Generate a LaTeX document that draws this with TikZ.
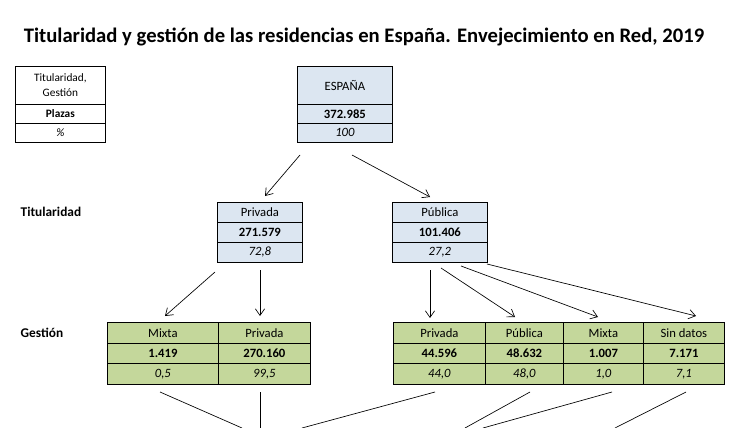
\documentclass[tikz,border=0pt]{standalone}
\usepackage{fontspec}
\setmainfont{Carlito}
\usetikzlibrary{arrows.meta}
\begin{document}
\begin{tikzpicture}[x=0.75pt,y=-0.75pt,font=\fontsize{9.5}{11}\selectfont,
 cell/.style={draw,line width=0.6pt,inner sep=0pt,anchor=north west,align=center},
 bl/.style={cell,fill={rgb,255:red,220;green,230;blue,241}},
 gr/.style={cell,fill={rgb,255:red,196;green,215;blue,155}},
 wh/.style={cell,fill=white},
 sz/.style 2 args={minimum width=0.75*#1 pt,minimum height=0.75*#2 pt},
 arr/.style={-{Straight Barb[length=5pt,width=7pt]},line width=0.5pt},
 ln/.style={line width=0.5pt},
 lab/.style={font=\fontsize{10}{12}\selectfont\bfseries,anchor=west}]
\useasboundingbox (0,0) rectangle (735,428);
\node[font=\fontsize{15.5}{18}\selectfont\bfseries] (title) at (364,37) {Titularidad y gestión de las residencias en España. Envejecimiento en Red, 2019};
% legend
\node[wh,sz={90}{38},font=\fontsize{8.5}{11}\selectfont] (l1) at (15,66) {Titularidad,\\Gestión};
\node[wh,sz={90}{19},font=\fontsize{8.5}{10}\selectfont] (l2) at (15,104) {\bfseries Plazas};
\node[wh,sz={90}{19},font=\fontsize{8.5}{10}\selectfont] (l3) at (15,123) {\itshape \%};
% Espana
\node[bl,sz={95}{38}] (e1) at (297,66) {ESPAÑA};
\node[bl,sz={95}{19}] (e2) at (297,104) {\bfseries 372.985};
\node[bl,sz={95}{19}] (e3) at (297,123) {\itshape 100};
\node[lab] (tit) at (16,212) {Titularidad};
\node[lab] (ges) at (16,333) {Gestión};
% Titularidad
\node[bl,sz={85}{20}] (p1) at (217,202) {Privada};
\node[bl,sz={85}{20}] (p2) at (217,222) {\bfseries 271.579};
\node[bl,sz={85}{20}] (p3) at (217,242) {\itshape 72,8};
\node[bl,sz={95}{20}] (u1) at (392,202) {Pública};
\node[bl,sz={95}{20}] (u2) at (392,222) {\bfseries 101.406};
\node[bl,sz={95}{20}] (u3) at (392,242) {\itshape 27,2};
% Gestion
\foreach \n/\x/\w/\a/\b/\c in {gm/107/111/Mixta/1.419/{0,5}, gp/218/92/Privada/270.160/{99,5},
  rp/393/92/Privada/44.596/{44,0}, rb/485/78/Pública/48.632/{48,0}, rm/563/80/Mixta/1.007/{1,0}, rs/643/81/Sin datos/7.171/{7,1}}{
 \node[gr,sz={\w}{21}] (\n1) at (\x,322) {\a};
 \node[gr,sz={\w}{20}] (\n2) at (\x,343) {\bfseries \b};
 \node[gr,sz={\w}{21}] (\n3) at (\x,363) {\itshape \c};
}
% arrows
\coordinate (a1) at (300,155); \coordinate (b1) at (265,196);
\coordinate (a2) at (352,155); \coordinate (b2) at (430,197);
\draw[arr] (a1) -- (b1); \draw[arr] (a2) -- (b2);
\coordinate (c1) at (215,272); \coordinate (d1) at (165,316);
\coordinate (c2) at (260,270); \coordinate (d2) at (260,316);
\draw[arr] (c1) -- (d1); \draw[arr] (c2) -- (d2);
\coordinate (f1) at (430,270); \coordinate (g1) at (430,318);
\coordinate (f2) at (441,268); \coordinate (g2) at (515,317);
\coordinate (f3) at (461,266); \coordinate (g3) at (598,317);
\coordinate (f4) at (487,264); \coordinate (g4) at (696,316);
\foreach \i in {1,...,4}{\draw[arr] (f\i) -- (g\i);}
% bottom lines
\coordinate (h1) at (160,392); \coordinate (k1) at (242,428);
\coordinate (h2) at (260,392); \coordinate (k2) at (260,428);
\coordinate (h3) at (435,392); \coordinate (k3) at (302,428);
\coordinate (h4) at (530,392); \coordinate (k4) at (465,428);
\coordinate (h5) at (612,392); \coordinate (k5) at (483,428);
\coordinate (h6) at (686,392); \coordinate (k6) at (615,428);
\foreach \i in {1,...,6}{\draw[ln] (h\i) -- (k\i);}
\end{tikzpicture}
\end{document}
